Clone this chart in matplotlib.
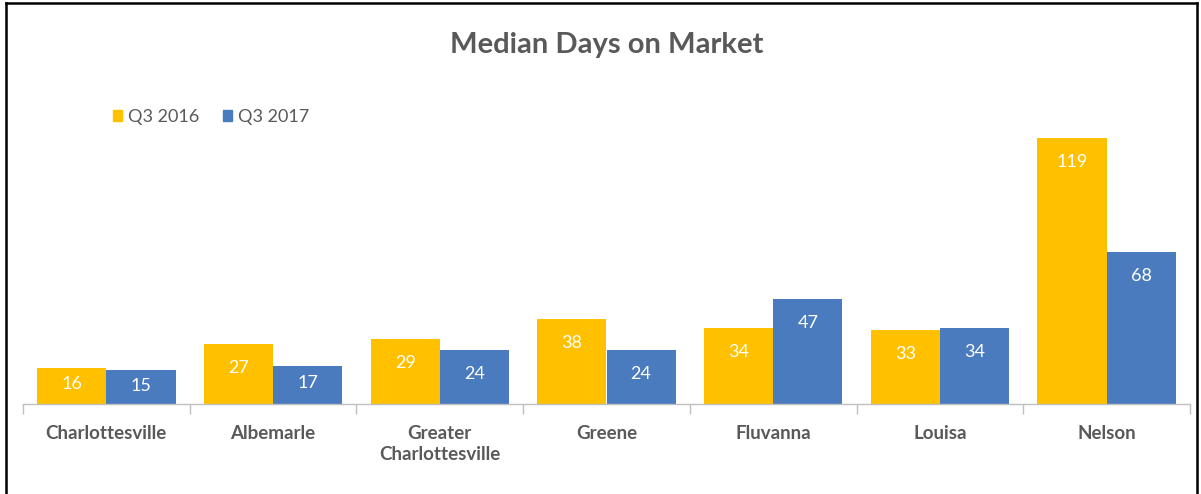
import matplotlib
matplotlib.use("Agg")
import matplotlib.pyplot as plt
from matplotlib.lines import Line2D
from matplotlib.patches import Patch
import numpy as np

categories = ["Charlottesville", "Albemarle", "Greater\nCharlottesville", "Greene",
              "Fluvanna", "Louisa", "Nelson"]
series_names = ["Q3 2016", "Q3 2017"]
q3_2016 = [16, 27, 29, 38, 34, 33, 119]
q3_2017 = [15, 17, 24, 24, 47, 34, 68]
colors = ["#FFC000", "#4A7BBF"]
title = "Median Days on Market"

plt.rcParams['font.family'] = ['Lato', 'DejaVu Sans']
TXT = "#595959"

fig = plt.figure(figsize=(12.01, 4.94), dpi=100)
W, H = 1201, 494
ax = fig.add_axes([23 / W, (H - 404) / H, (1190 - 23) / W, (404 - 100) / H])

x = np.arange(len(categories))
bw = 0.415
for i, (vals, c) in enumerate(zip([q3_2016, q3_2017], colors)):
    xs = x + (i - 0.5) * bw
    ax.bar(xs, vals, width=bw, color=c, label=series_names[i], zorder=2)
    for xi, v in zip(xs, vals):
        ax.text(xi, max(v - 10.8, v * 0.55), str(v), ha='center', va='center',
                color='white', fontsize=13, zorder=3)

ax.set_xlim(-0.5, len(categories) - 0.5)
ax.set_ylim(0, 136)
for s in ['top', 'right', 'left']:
    ax.spines[s].set_visible(False)
ax.spines['bottom'].set_color('#BFBFBF')
ax.spines['bottom'].set_linewidth(1.0)
ax.set_yticks([])
ax.set_xticks(np.arange(len(categories) + 1) - 0.5, minor=False)
ax.set_xticklabels([])
ax.tick_params(axis='x', which='major', length=7, color='#BFBFBF', width=1.0)
ax.set_xticks(x, minor=True)
ax.set_xticklabels(categories, minor=True, fontsize=13.5, fontweight='bold', color=TXT,
                   linespacing=1.3)
ax.tick_params(axis='x', which='minor', length=0, pad=15)

fig.text(607 / W, 1 - 45 / H, title, ha='center', va='center', fontsize=21,
         fontweight='bold', color=TXT)

handles = [Patch(color=c) for c in colors]
fig.legend(handles, series_names, loc='center left', bbox_to_anchor=(113 / W, 1 - 117 / H),
           ncol=2, frameon=False, fontsize=13, labelcolor=TXT, handlelength=0.5,
           handleheight=0.5, handletextpad=0.35, columnspacing=1.3, borderaxespad=0,
           borderpad=0)

for xs_, ys_ in [([6, 6], [3, 494]), ([6, 1197], [3, 3]), ([1197, 1197], [3, 494])]:
    fig.add_artist(Line2D([v / W for v in xs_], [1 - v / H for v in ys_],
                          color='black', linewidth=1.8, transform=fig.transFigure))

fig.savefig("out.png", dpi=100, facecolor='white')
